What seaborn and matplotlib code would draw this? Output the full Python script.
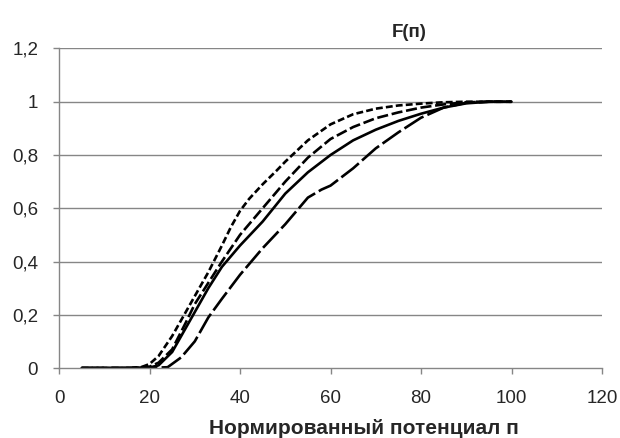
import matplotlib
matplotlib.use("Agg")
import matplotlib.pyplot as plt
import pandas as pd
import seaborn as sns

# Curves (F(n) vs normalised potential n)
x_short = [5, 10, 15, 18, 20, 22, 25, 28, 30, 33, 36, 38, 40, 42, 45, 48, 50, 55, 60, 65, 70, 75, 80, 85, 90, 95, 100]
f_short = [0, 0, 0, 0.002, 0.015, 0.045, 0.12, 0.21, 0.27, 0.36, 0.46, 0.53, 0.59, 0.635, 0.69, 0.74, 0.775, 0.855, 0.915, 0.953, 0.974, 0.986, 0.993, 0.998, 1, 1, 1]

x_med = [5, 10, 15, 20, 22, 25, 28, 30, 33, 36, 40, 45, 50, 55, 60, 65, 70, 75, 80, 85, 90, 95, 100]
f_med = [0, 0, 0, 0.005, 0.02, 0.07, 0.17, 0.24, 0.32, 0.4, 0.5, 0.6, 0.7, 0.79, 0.86, 0.905, 0.938, 0.96, 0.978, 0.99, 0.998, 1, 1]

x_solid = [5, 10, 15, 20, 22, 25, 28, 30, 33, 36, 40, 45, 50, 55, 60, 65, 70, 75, 80, 85, 90, 95, 100]
f_solid = [0, 0, 0, 0.002, 0.01, 0.06, 0.15, 0.21, 0.3, 0.38, 0.46, 0.55, 0.655, 0.735, 0.8, 0.855, 0.895, 0.928, 0.955, 0.978, 0.994, 1, 1]

x_long = [5, 10, 15, 20, 24, 27, 30, 33, 36, 40, 45, 50, 53, 55, 58, 60, 65, 70, 75, 80, 85, 90, 95, 100]
f_long = [0, 0, 0, 0, 0.003, 0.04, 0.1, 0.19, 0.26, 0.35, 0.45, 0.54, 0.6, 0.64, 0.67, 0.685, 0.75, 0.825, 0.885, 0.94, 0.978, 0.996, 1, 1]

x_ticks = [0, 20, 40, 60, 80, 100, 120]
y_ticks = [0, 0.2, 0.4, 0.6, 0.8, 1.0, 1.2]
y_labels = ["0", "0,2", "0,4", "0,6", "0,8", "1", "1,2"]

# long form table for seaborn
parts = []
for name, xs, ys in [("short", x_short, f_short), ("med", x_med, f_med),
                     ("solid", x_solid, f_solid), ("long", x_long, f_long)]:
    parts.append(pd.DataFrame({"n": xs, "F": ys, "curve": name}))
df = pd.concat(parts, ignore_index=True)

sns.set_style("white")
plt.rcParams["font.family"] = ["Liberation Sans", "DejaVu Sans"]

fig = plt.figure(figsize=(6.2, 4.38), dpi=100)
ax = fig.add_axes([0.0952, 0.1598, 0.8758, 0.7295])

grey = "#868686"
for y in y_ticks[1:]:
    ax.axhline(y, color=grey, lw=1.0, zorder=0)

sns.lineplot(data=df, x="n", y="F", style="curve", sort=False,
             style_order=["short", "med", "solid", "long"],
             dashes={"short": (2.6, 1.2), "med": (4.2, 1.4), "solid": "", "long": (8.5, 1.6)},
             color="black", lw=1.9, legend=False, ax=ax)

ax.set_xlim(0, 120)
ax.set_ylim(0, 1.2)
ax.set_xticks(x_ticks)
ax.set_xticklabels([str(v) for v in x_ticks])
ax.set_yticks(y_ticks)
ax.set_yticklabels(y_labels)
ax.set_xlabel("")
ax.set_ylabel("")

for side in ["top", "right"]:
    ax.spines[side].set_visible(False)
for side in ["left", "bottom"]:
    ax.spines[side].set_color(grey)
    ax.spines[side].set_linewidth(1.0)

ax.tick_params(axis="x", direction="out", length=4, width=1.0, color=grey,
               labelsize=13.5, pad=12, bottom=True)
ax.tick_params(axis="y", direction="out", length=4, width=1.0, color=grey,
               labelsize=13.5, pad=11, left=True)

fig.text(0.66, 0.925, "F(п)", ha="center", va="center", fontsize=13.5, fontweight="bold")
fig.text(0.587, 0.022, "Нормированный потенциал п", ha="center", va="center",
         fontsize=15, fontweight="bold")

fig.savefig("out.png", dpi=100)
